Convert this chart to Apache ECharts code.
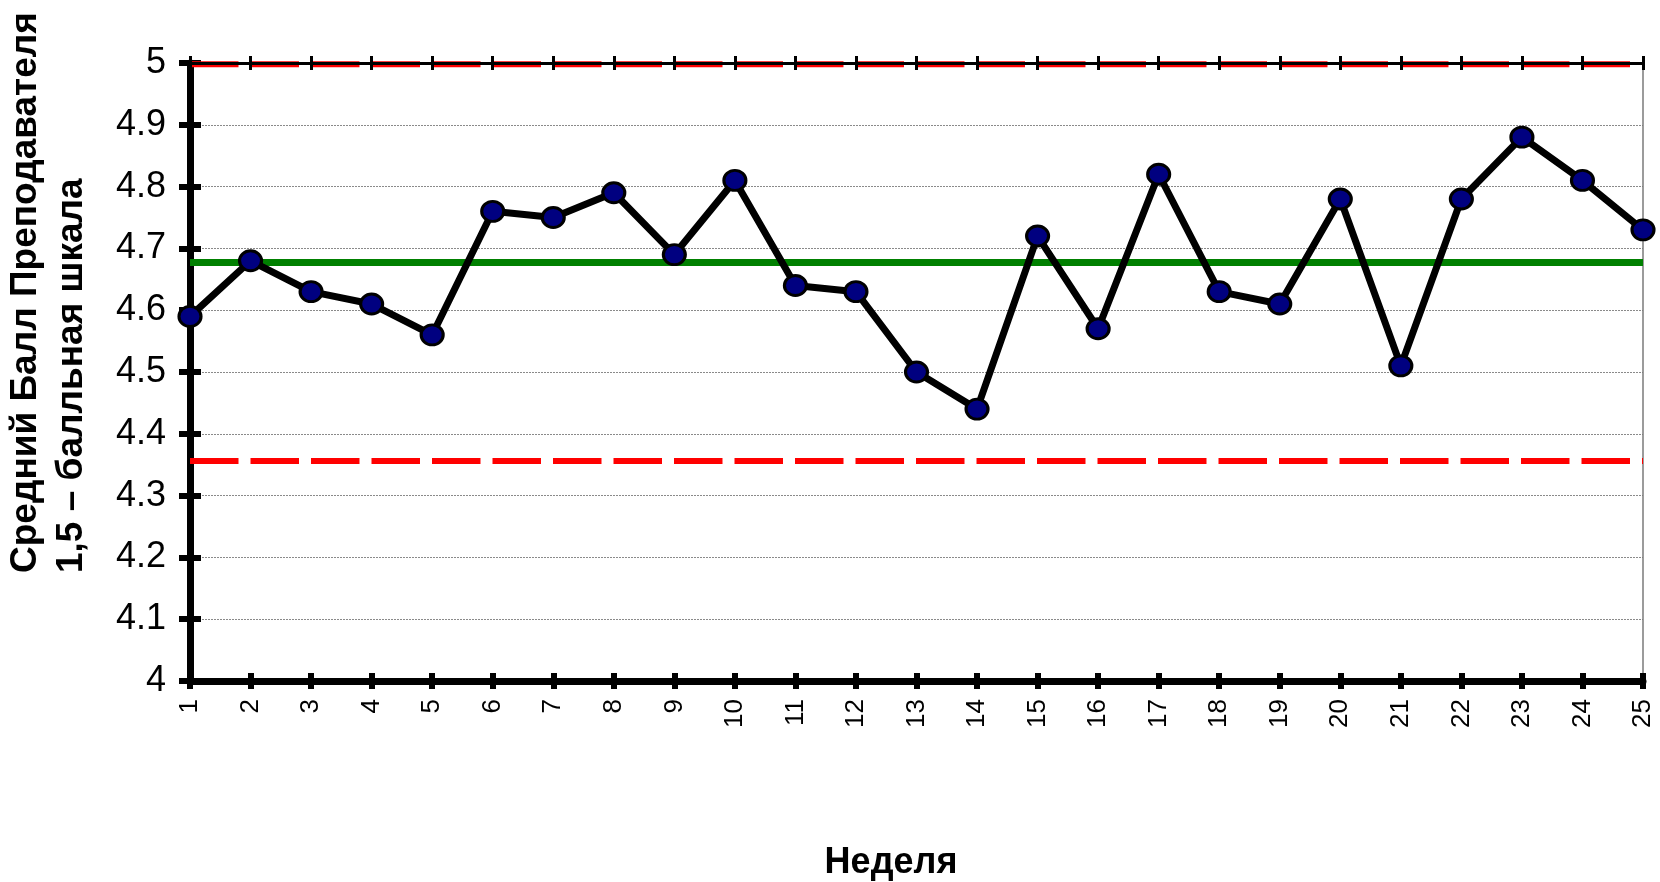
<!DOCTYPE html>
<html><head><meta charset="utf-8">
<script src="https://cdn.jsdelivr.net/npm/echarts@6/dist/echarts.min.js"></script>
<style>html,body{margin:0;padding:0;background:#fff}#c{width:1660px;height:882px}</style>
</head><body><div id="c"></div>
<script>
const weeks = ['1','2','3','4','5','6','7','8','9','10','11','12','13','14','15','16','17','18','19','20','21','22','23','24','25'];
const scores = [4.59,4.68,4.63,4.61,4.56,4.76,4.75,4.79,4.69,4.81,4.64,4.63,4.50,4.44,4.72,4.57,4.82,4.63,4.61,4.78,4.51,4.78,4.88,4.81,4.73];
const centerLine = 4.677;
const upperLimit = 4.998;
const lowerLimit = 4.356;
const yMin = 4, yMax = 5, yStep = 0.1;
const yTitle = ['Средний Балл Преподавателя', '1,5 – балльная шкала'];
const xTitle = 'Неделя';

const FONT = '"Liberation Sans", Arial, sans-serif';
const chart = echarts.init(document.getElementById('c'), null, {renderer:'canvas'});
const catBase = {type:'category', data: weeks, boundaryGap:false, splitLine:{show:false}};
const tickStyle = (w) => ({color:'#000', width:w});
const option = {
  animation:false,
  backgroundColor:'#fff',
  grid:{left:190, right:17, top:63, bottom:201, containLabel:false},
  xAxis:[
    Object.assign({}, catBase, {position:'bottom',
      axisLine:{show:true,onZero:false,lineStyle:{color:'#000',width:7}},
      axisTick:{show:true,inside:false,length:8,interval:0,lineStyle:tickStyle(6)},
      axisLabel:{interval:0,rotate:90,fontSize:26,fontFamily:FONT,color:'#000',margin:18}}),
    Object.assign({}, catBase, {position:'bottom',
      axisLine:{show:false,onZero:false},
      axisTick:{show:true,inside:true,length:8,interval:0,lineStyle:tickStyle(6)},
      axisLabel:{show:false}}),
    Object.assign({}, catBase, {position:'top', z:5,
      axisLine:{show:true,onZero:false,lineStyle:{color:'#000',width:3}},
      axisTick:{show:true,inside:false,length:7,interval:0,lineStyle:tickStyle(3)},
      axisLabel:{show:false}}),
    Object.assign({}, catBase, {position:'top', z:5,
      axisLine:{show:false,onZero:false},
      axisTick:{show:true,inside:true,length:7,interval:0,lineStyle:tickStyle(3)},
      axisLabel:{show:false}})
  ],
  yAxis:[
    {type:'value', min:yMin, max:yMax, interval:yStep, position:'left',
      axisLine:{show:true,onZero:false,lineStyle:{color:'#000',width:7}},
      axisTick:{show:true,inside:false,length:11,lineStyle:tickStyle(6)},
      axisLabel:{fontSize:36,fontFamily:FONT,color:'#000',margin:24},
      splitLine:{show:true,lineStyle:{color:'#8a8a8a',width:1,type:[2,1]}}},
    {type:'value', min:yMin, max:yMax, interval:yStep, position:'left',
      axisLine:{show:false},
      axisTick:{show:true,inside:true,length:11,lineStyle:tickStyle(6)},
      axisLabel:{show:false}, splitLine:{show:false}},
    {type:'value', min:yMin, max:yMax, interval:yStep, position:'right',
      axisLine:{show:true,onZero:false,lineStyle:{color:'#7a7a7a',width:1.5}},
      axisTick:{show:false}, axisLabel:{show:false}, splitLine:{show:false}}
  ],
  series:[
    {type:'line', name:'UCL', data: weeks.map(() => upperLimit), symbol:'none', silent:true, z:2,
      lineStyle:{color:'#ff0000', width:6, type:[48.5,12]}},
    {type:'line', name:'LCL', data: weeks.map(() => lowerLimit), symbol:'none', silent:true, z:2,
      lineStyle:{color:'#ff0000', width:6, type:[48.5,12]}},
    {type:'line', name:'CL', data: weeks.map(() => centerLine), symbol:'none', silent:true, z:2,
      lineStyle:{color:'#008000', width:7, type:'solid'}},
    {type:'line', name:'Score', data: scores, symbol:'circle', symbolSize:[22,20], z:4,
      lineStyle:{color:'#000', width:7},
      itemStyle:{color:'#000080', borderColor:'#000', borderWidth:3}}
  ],
  graphic:[
    {type:'text', x:3, y:573, rotation:Math.PI/2, z:10,
      style:{text: yTitle.join('\n'), fontSize:37, fontWeight:'bold', fontFamily:FONT, fill:'#000',
        align:'left', verticalAlign:'top', lineHeight:46}},
    {type:'text', x:891, y:863, z:10,
      style:{text: xTitle, fontSize:36, fontWeight:'bold', fontFamily:FONT, fill:'#000',
        align:'center', verticalAlign:'middle'}}
  ]
};
chart.setOption(option);
</script></body></html>
